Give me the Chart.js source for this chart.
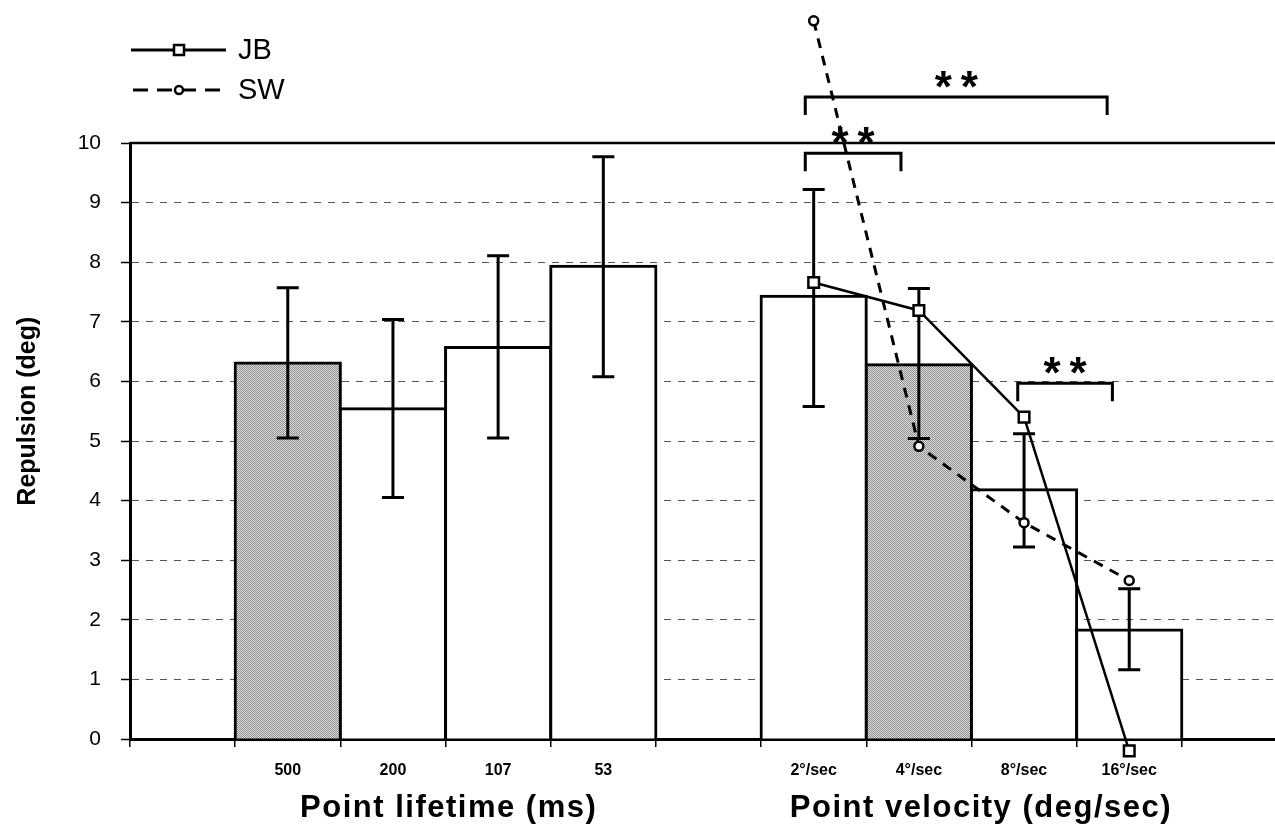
<!DOCTYPE html>
<html><head><meta charset="utf-8">
<script src="https://cdn.jsdelivr.net/npm/chart.js@4.4.1/dist/chart.umd.min.js"></script>
<style>
html,body{margin:0;padding:0;background:#fff;overflow:hidden;width:1275px;height:829px}
canvas{display:block}
</style></head>
<body>
<canvas id="c" width="1287" height="829" style="width:1287px;height:829px"></canvas>
<script>
// ---- data ----
const categories = ['', '500', '200', '107', '53', '', '2°/sec', '4°/sec', '8°/sec', '16°/sec', ''];
const barValues  = [null, 6.31, 5.54, 6.57, 7.93, null, 7.43, 6.28, 4.18, 1.83, null];
const barShaded  = [false, true, false, false, false, false, false, true, false, false, false];
const errHigh    = [null, 7.57, 7.04, 8.11, 9.77, null, 9.22, 7.56, 5.12, 2.52, null];
const errLow     = [null, 5.05, 4.05, 5.05, 6.08, null, 5.58, 5.04, 3.22, 1.16, null];
const jbValues   = [null, null, null, null, null, null, 7.66, 7.19, 5.40, -0.20, null];
const swValues   = [null, null, null, null, null, null, 12.05, 4.91, 3.63, 2.66, null];
const yTickValues = [0, 1, 2, 3, 4, 5, 6, 7, 8, 9, 10];
const seriesNames = ['JB', 'SW'];
const yTitle = 'Repulsion (deg)';
const groupTitles = ['Point lifetime (ms)', 'Point velocity (deg/sec)'];
const groupCenters = [2.53, 7.59];           // category-index position of each group title
const bracketFrom = [5.92, 5.92, 7.94];      // category-index positions
const bracketTo   = [8.79, 6.83, 8.84];
const bracketY    = [10.77, 9.83, 5.97];     // value units
const bracketLabel = ['* *', '* *', '* *'];

const FONT = "'Liberation Sans', Arial, Helvetica, sans-serif";

const c = document.getElementById('c');
const ctx0 = c.getContext('2d');
const pc = document.createElement('canvas'); pc.width = 2; pc.height = 2;
const pg = pc.getContext('2d');
pg.fillStyle = '#dedede'; pg.fillRect(0, 0, 2, 2);
pg.fillStyle = '#8e8e8e'; pg.fillRect(0, 0, 1, 1); pg.fillRect(1, 1, 1, 1);
const grayPattern = ctx0.createPattern(pc, 'repeat');

function drawStar(ctx, x, y) {
  ctx.font = 'bold 44px ' + FONT;
  const m = ctx.measureText('*');
  ctx.textAlign = 'center';
  ctx.textBaseline = 'alphabetic';
  ctx.fillText('*', x, y + m.actualBoundingBoxAscent - (m.actualBoundingBoxAscent + m.actualBoundingBoxDescent) / 2);
}

const decor = {
  id: 'decor',
  afterDatasetDraw(chart, args) {
    const ctx = chart.ctx, xs = chart.scales.x, ys = chart.scales.y, ca = chart.chartArea;
    if (args.index === 0) {
      ctx.save();
      ctx.strokeStyle = '#000'; ctx.lineWidth = 3; ctx.lineCap = 'butt';
      for (let i = 0; i < categories.length; i++) {
        if (errHigh[i] == null) continue;
        const x = xs.getPixelForValue(i);
        const yh = ys.getPixelForValue(errHigh[i]);
        const yl = ys.getPixelForValue(errLow[i]);
        ctx.beginPath();
        ctx.moveTo(x, yh); ctx.lineTo(x, yl);
        ctx.moveTo(x - 11, yh); ctx.lineTo(x + 11, yh);
        ctx.moveTo(x - 11, yl); ctx.lineTo(x + 11, yl);
        ctx.stroke();
      }
      ctx.restore();
    } else {
      // points lying outside the plot area (Chart.js skips them)
      const meta = args.meta;
      for (const el of meta.data) {
        if (el.skip) continue;
        if (el.y < ca.top || el.y > ca.bottom) el.draw(ctx);
      }
    }
  },
  afterDraw(chart) {
    const ctx = chart.ctx, xs = chart.scales.x, ys = chart.scales.y, ca = chart.chartArea;
    ctx.save();
    // top frame
    ctx.strokeStyle = '#000'; ctx.lineWidth = 2.5;
    ctx.beginPath(); ctx.moveTo(ca.left, ys.getPixelForValue(10)); ctx.lineTo(ca.right, ys.getPixelForValue(10)); ctx.stroke();
    // brackets
    ctx.lineWidth = 3; ctx.fillStyle = '#000';
    for (let i = 0; i < bracketFrom.length; i++) {
      const x1 = xs.getPixelForValue(bracketFrom[i]);
      const x2 = xs.getPixelForValue(bracketTo[i]);
      const y = ys.getPixelForValue(bracketY[i]);
      ctx.beginPath();
      ctx.moveTo(x1, y + 18); ctx.lineTo(x1, y); ctx.lineTo(x2, y); ctx.lineTo(x2, y + 18);
      ctx.stroke();
      const cx = (x1 + x2) / 2;
      const parts = bracketLabel[i].split(' ');
      drawStar(ctx, cx - 13, y - 18);
      if (parts.length > 1) drawStar(ctx, cx + 13, y - 18);
    }
    // group titles
    ctx.font = 'bold 31px ' + FONT;
    ctx.letterSpacing = '1.5px';
    ctx.textAlign = 'center'; ctx.textBaseline = 'middle';
    for (let i = 0; i < groupTitles.length; i++) {
      ctx.fillText(groupTitles[i], xs.getPixelForValue(groupCenters[i]), 808);
    }
    ctx.letterSpacing = '0px';
    // y title
    ctx.save();
    ctx.translate(28, ys.getPixelForValue(5.5));
    ctx.rotate(-Math.PI / 2);
    ctx.font = 'bold 25px ' + FONT;
    ctx.textAlign = 'center'; ctx.textBaseline = 'middle';
    ctx.fillText(yTitle, 0, 0);
    ctx.restore();
    // legend
    const ly = [50, 90];
    for (let k = 0; k < 2; k++) {
      ctx.strokeStyle = '#000';
      ctx.lineWidth = 3;
      ctx.setLineDash(k === 0 ? [] : [15, 9]);
      ctx.lineDashOffset = k === 0 ? 0 : -2;
      ctx.beginPath(); ctx.moveTo(131, ly[k]); ctx.lineTo(226, ly[k]); ctx.stroke();
      ctx.setLineDash([]);
      ctx.fillStyle = '#fff'; ctx.lineWidth = 2.5;
      if (k === 0) { ctx.fillRect(174, ly[k] - 5, 10, 10); ctx.strokeRect(174, ly[k] - 5, 10, 10); }
      else { ctx.beginPath(); ctx.arc(179, ly[k], 4, 0, Math.PI * 2); ctx.fill(); ctx.stroke(); }
      ctx.fillStyle = '#000';
      ctx.font = '29px ' + FONT;
      ctx.textAlign = 'left'; ctx.textBaseline = 'middle';
      ctx.fillText(seriesNames[k], 238, ly[k] + 1);
    }
    ctx.restore();
  }
};

new Chart(c, {
  data: {
    labels: categories,
    datasets: [
      {
        type: 'bar', label: 'Repulsion', data: barValues, order: 3,
        backgroundColor: (ctx) => barShaded[ctx.dataIndex] ? grayPattern : '#ffffff',
        borderColor: '#000',
        borderWidth: { top: 3, left: 3, right: 3, bottom: 0 },
        inflateAmount: 1.5,
        borderSkipped: false,
        barPercentage: 1, categoryPercentage: 1
      },
      {
        type: 'line', label: seriesNames[0], data: jbValues, order: 1, clip: false,
        borderColor: '#000', borderWidth: 2.5, tension: 0,
        pointStyle: 'rect', pointRadius: 7.5, pointBorderWidth: 2.5,
        pointBackgroundColor: '#fff', pointBorderColor: '#000'
      },
      {
        type: 'line', label: seriesNames[1], data: swValues, order: 2, clip: false,
        borderColor: '#000', borderWidth: 3, borderDash: [10, 8], tension: 0,
        pointStyle: 'circle', pointRadius: 4.5, pointBorderWidth: 2.5,
        pointBackgroundColor: '#fff', pointBorderColor: '#000'
      }
    ]
  },
  options: {
    responsive: false, animation: false,
    layout: { autoPadding: false, padding: { top: 143, left: 0, right: 0, bottom: 0 } },
    plugins: { legend: { display: false }, tooltip: { enabled: false } },
    scales: {
      x: {
        type: 'category', offset: true,
        grid: { display: true, drawOnChartArea: false, drawTicks: true, tickLength: 8, color: '#000', lineWidth: 1.5, offset: true },
        border: { display: true, color: '#000', width: 3 },
        ticks: { color: '#000', font: { family: FONT, size: 16, weight: 'bold' }, padding: 14, autoSkip: false, maxRotation: 0 },
        afterFit: (s) => { s.height = 90; }
      },
      y: {
        type: 'linear', min: 0, max: 10,
        afterBuildTicks: (s) => { s.ticks = yTickValues.map(v => ({ value: v })); },
        grid: { color: '#555', lineWidth: 1, drawTicks: true, tickLength: 9, tickColor: '#000', tickWidth: 1.5, tickBorderDash: [] },
        border: { display: true, color: '#000', width: 3, dash: [7, 7] },
        ticks: { color: '#000', font: { family: FONT, size: 21 }, padding: 20 },
        afterFit: (s) => { s.width = 130; }
      }
    }
  },
  plugins: [decor]
});
</script>
</body></html>
